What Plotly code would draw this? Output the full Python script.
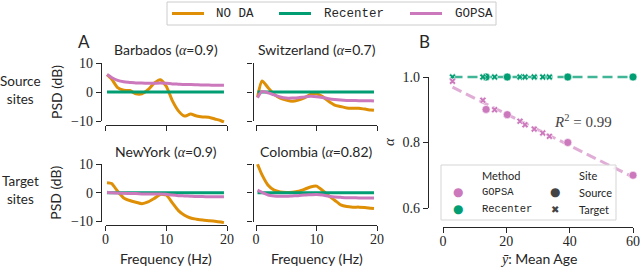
import numpy as np
import plotly.graph_objects as go

W, H = 640, 268

# ---------------- data: panel A ----------------
freqs = [0.25, 1, 2, 3, 4, 5, 6, 7, 8, 9, 10, 11, 12, 13, 14, 15, 16, 17, 18, 19, 19.5]
sites = ["Barbados", "Switzerland", "NewYork", "Colombia"]
site_alpha = ["0.9", "0.7", "0.9", "0.82"]
methods = ["NO DA", "Recenter", "GOPSA"]

noda_barbados = [6.0, 4.5, 1.5, 0.6, 0.5, -0.6, -0.6, 0.8, 3.0, 4.2, 2.0, -3.0, -6.5, -8.3, -7.6, -8.3, -8.6, -8.7, -9.3, -9.9, -10.3]
noda_switzerland = [-1.8, 3.8, 1.5, -0.8, -2.1, -2.8, -3.2, -2.8, -2.0, -0.8, -0.6, -1.6, -3.2, -4.5, -5.0, -5.5, -5.6, -5.6, -5.9, -6.2, -6.3]
noda_newyork = [3.5, 3.2, 0.5, -1.8, -2.7, -3.3, -3.8, -3.2, -2.0, -0.6, -0.8, -3.5, -6.2, -7.8, -8.8, -9.2, -9.5, -9.7, -9.9, -10.2, -10.4]
noda_colombia = [9.9, 6.2, 2.6, 0.9, 0.3, 0.1, 0.2, 0.5, 1.2, 2.0, 2.3, 0.8, -1.0, -2.6, -4.2, -4.8, -5.0, -5.0, -5.1, -5.4, -5.5]

recenter_barbados = [0.0, 0.0, 0.0, 0.0, 0.0, 0.0, 0.0, 0.0, 0.0, 0.0, 0.0, 0.0, 0.0, 0.0, 0.0, 0.0, 0.0, 0.0, 0.0, 0.0, 0.0]
recenter_switzerland = [0.0, 0.0, 0.0, 0.0, 0.0, 0.0, 0.0, 0.0, 0.0, 0.0, 0.0, 0.0, 0.0, 0.0, 0.0, 0.0, 0.0, 0.0, 0.0, 0.0, 0.0]
recenter_newyork = [0.0, 0.0, 0.0, 0.0, 0.0, 0.0, 0.0, 0.0, 0.0, 0.0, 0.0, 0.0, 0.0, 0.0, 0.0, 0.0, 0.0, 0.0, 0.0, 0.0, 0.0]
recenter_colombia = [0.0, 0.0, 0.0, 0.0, 0.0, 0.0, 0.0, 0.0, 0.0, 0.0, 0.0, 0.0, 0.0, 0.0, 0.0, 0.0, 0.0, 0.0, 0.0, 0.0, 0.0]

gopsa_barbados = [6.0, 5.0, 4.0, 3.5, 3.3, 3.1, 3.1, 3.0, 3.0, 3.1, 3.0, 2.8, 2.7, 2.6, 2.6, 2.5, 2.4, 2.4, 2.3, 2.3, 2.3]
gopsa_switzerland = [-2.0, 0.2, -0.3, -1.0, -1.7, -2.1, -2.1, -2.0, -1.7, -1.5, -1.6, -1.9, -2.3, -2.6, -2.8, -2.9, -2.9, -3.0, -3.0, -3.0, -3.1]
gopsa_newyork = [0.2, 0.0, -0.1, -0.2, -0.3, -0.3, -0.4, -0.4, -0.4, -0.4, -0.5, -0.8, -1.0, -1.1, -1.2, -1.3, -1.3, -1.4, -1.4, -1.4, -1.4]
gopsa_colombia = [0.9, 0.1, -0.8, -1.1, -1.2, -1.2, -1.1, -1.0, -0.8, -0.7, -0.6, -0.8, -1.2, -1.5, -1.6, -1.7, -1.7, -1.8, -1.8, -1.8, -1.8]

a_xticks = [0, 10, 20]
a_xticktext = ["0", "10", "20"]
a_yticks = [-10, 0, 10]
a_yticktext = ["\u221210", "0", "10"]

# ---------------- data: panel B ----------------
source_age = [13.6, 20.3, 39.4, 60.0]
source_alpha_gopsa = [0.901, 0.885, 0.800, 0.700]
source_alpha_recenter = [1.0, 1.0, 1.0, 1.0]
target_age = [3.0, 12.6, 16.3, 24.3, 25.9, 28.8, 31.5, 33.6]
target_alpha_gopsa = [0.987, 0.929, 0.900, 0.865, 0.854, 0.841, 0.829, 0.819]
target_alpha_recenter = [1.0, 1.0, 1.0, 1.0, 1.0, 1.0, 1.0, 1.0]
b_xticks = [0, 20, 40, 60]
b_yticks = [0.6, 0.8, 1.0]
b_yticktext = ["0.6", "0.8", "1.0"]

# ---------------- style ----------------
ORANGE = "#de8f05"
GREEN = "#029e73"
PINK = "#cc78bc"
INK = "#262626"
SERIF = "Liberation Serif"
SANS = "Lato"
MONO = "Liberation Mono"
method_colors = [ORANGE, GREEN, PINK]

fig = go.Figure()
layout = {}
annotations = []
shapes = []


def fx(px):
    return px / W


def fy(py):
    return 1 - py / H


def label(text, px, py, font, xanchor="center", angle=0, align="center"):
    annotations.append(dict(x=fx(px), y=fy(py), xref="paper", yref="paper", showarrow=False,
                            text=text, font=font, xanchor=xanchor, yanchor="middle",
                            textangle=angle, align=align))


def add_axes(n, xv, xp, yv, yp, xext, yext, xspine_py, yspine_px,
             xtickvals, xticktext, ytickvals, yticktext, show_xlab, show_ylab, tickfont):
    """n: data axis number; n+10: spine axis number"""
    sx = (xp[1] - xp[0]) / (xv[1] - xv[0])
    xr = [xv[0] + (xext[0] - xp[0]) / sx, xv[0] + (xext[1] - xp[0]) / sx]
    sy = (yp[1] - yp[0]) / (yv[1] - yv[0])
    yr = [yv[0] + (yext[1] - yp[0]) / sy, yv[0] + (yext[0] - yp[0]) / sy]
    sfx = "" if n == 1 else str(n)
    layout["xaxis" + sfx] = dict(domain=[fx(xext[0]), fx(xext[1])], range=xr, visible=False,
                                 anchor="y" + sfx, fixedrange=True, automargin=False)
    layout["yaxis" + sfx] = dict(domain=[fy(yext[1]), fy(yext[0])], range=yr, visible=False,
                                 anchor="x" + sfx, fixedrange=True, automargin=False)
    m = n + 10
    layout["xaxis%d" % m] = dict(
        domain=[fx(xp[0]), fx(xp[1])], range=[xv[0], xv[1]], anchor="free",
        position=fy(xspine_py), showline=True, linecolor=INK, linewidth=1.4,
        ticks="outside", ticklen=5, tickwidth=1.4, tickcolor=INK,
        tickvals=xtickvals, ticktext=xticktext, showticklabels=show_xlab,
        ticklabelstandoff=-4,
        tickfont=tickfont, showgrid=False, zeroline=False, fixedrange=True, automargin=False)
    ylo, yhi = min(yv), max(yv)
    layout["yaxis%d" % m] = dict(
        domain=[fy(max(yp)), fy(min(yp))], range=[ylo, yhi], anchor="free",
        position=fx(yspine_px), showline=True, linecolor=INK, linewidth=1.4,
        ticks="outside", ticklen=5, tickwidth=1.4, tickcolor=INK,
        tickvals=ytickvals, ticktext=yticktext, showticklabels=show_ylab,
        tickfont=tickfont, showgrid=False, zeroline=False, fixedrange=True, automargin=False)
    fig.add_trace(go.Scatter(x=[xv[0]], y=[yv[0]], mode="markers", marker=dict(opacity=0),
                             xaxis="x%d" % m, yaxis="y%d" % m, showlegend=False, hoverinfo="skip"))
    return "x" + sfx, "y" + sfx


tickfont = dict(family=SERIF, size=14, color=INK)
sans14 = dict(family=SANS, size=14, color=INK)

# panel A geometry (pixel positions of tick values)
panels = [
    dict(xp=(105.5, 227), yp=(63, 121), xs=124.5, ys=101, xl=False, yl=True),
    dict(xp=(256, 377), yp=(63, 121), xs=124.5, ys=252.5, xl=False, yl=False),
    dict(xp=(105.5, 227), yp=(164, 221.5), xs=224.5, ys=101, xl=True, yl=True),
    dict(xp=(256, 377), yp=(164, 221.5), xs=224.5, ys=252.5, xl=True, yl=False),
]
noda = [noda_barbados, noda_switzerland, noda_newyork, noda_colombia]
recenter = [recenter_barbados, recenter_switzerland, recenter_newyork, recenter_colombia]
gopsa = [gopsa_barbados, gopsa_switzerland, gopsa_newyork, gopsa_colombia]

for i, p in enumerate(panels):
    xa, ya = add_axes(i + 1, (0, 20), p["xp"], (10, -10), p["yp"],
                      (p["xp"][0] - 3, p["xp"][1] + 3), (p["yp"][0] - 4, p["yp"][1] + 4),
                      p["xs"], p["ys"], a_xticks, a_xticktext, a_yticks, a_yticktext,
                      p["xl"], p["yl"], tickfont)
    for name, vals, col in zip(methods, (noda[i], recenter[i], gopsa[i]), method_colors):
        fig.add_trace(go.Scatter(x=freqs, y=vals, mode="lines", name=name,
                                 line=dict(color=col, width=3, shape="spline", smoothing=0.6),
                                 xaxis=xa, yaxis=ya, showlegend=False, hoverinfo="skip"))
    cx = (p["xp"][0] + p["xp"][1]) / 2
    label('%s (<span style="font-family:Liberation Serif"><i>\u03b1</i></span>=%s)' % (sites[i], site_alpha[i]),
          cx, p["yp"][0] - 13, sans14)
    if p["yl"]:
        label("PSD (dB)", 56, (p["yp"][0] + p["yp"][1]) / 2, sans14, angle=-90)
    if p["xl"]:
        label("Frequency (Hz)", cx, 258, sans14)

label("Source<br>sites", 20, 90, dict(family=SANS, size=13.5, color=INK))
label("Target<br>sites", 20, 190, dict(family=SANS, size=13.5, color=INK))
label("A", 84, 41, dict(family=SANS, size=17, color=INK))
label("B", 424, 41, dict(family=SANS, size=17, color=INK))

# top legend (drawn as a box with line swatches)
shapes.append(dict(type="rect", xref="paper", yref="paper", x0=fx(167), x1=fx(496), y0=fy(25), y1=fy(2),
                   line=dict(color="#cccccc", width=1), fillcolor="white"))
for name, col, lx0, tx in zip(methods, method_colors, (172, 279, 410), (214, 322, 453)):
    shapes.append(dict(type="line", xref="paper", yref="paper", x0=fx(lx0), x1=fx(lx0 + 32),
                       y0=fy(13.5), y1=fy(13.5), line=dict(color=col, width=3)))
    label(name, tx, 13.5, dict(family=MONO, size=12.5, color=INK), xanchor="left")

# ---------------- panel B ----------------
xb, yb = add_axes(9, (0, 60), (443, 633), (1.0, 0.6), (77, 208), (433, 640), (68, 216),
                  227, 428, b_xticks, [str(v) for v in b_xticks], b_yticks, b_yticktext,
                  True, True, tickfont)

all_age = np.array(source_age + target_age)
for vals, col, lw, op in ((source_alpha_recenter + target_alpha_recenter, GREEN, 2.5, 0.75),
                          (source_alpha_gopsa + target_alpha_gopsa, PINK, 3, 0.6)):
    coef = np.polyfit(all_age, np.array(vals), 1)
    xs = np.array([all_age.min(), all_age.max()])
    fig.add_trace(go.Scatter(x=xs, y=np.polyval(coef, xs), mode="lines",
                             line=dict(color=col, width=lw, dash="10px,5px"), opacity=op,
                             xaxis=xb, yaxis=yb, showlegend=False, hoverinfo="skip"))

for ages, vals, col, sym, size in (
        (source_age, source_alpha_recenter, GREEN, "circle", 8),
        (target_age, target_alpha_recenter, GREEN, "x", 6),
        (source_age, source_alpha_gopsa, PINK, "circle", 8),
        (target_age, target_alpha_gopsa, PINK, "x", 6)):
    fig.add_trace(go.Scatter(x=ages, y=vals, mode="markers",
                             marker=dict(color=col, symbol=sym, size=size,
                                         line=dict(color="white", width=0.6)),
                             xaxis=xb, yaxis=yb, showlegend=False, hoverinfo="skip", cliponaxis=False))

label("<i>R</i><sup>2</sup> = 0.99", 583, 121, dict(family=SERIF, size=15, color="#444444"))
label("<i>\u03b1</i>", 389, 142, dict(family=SERIF, size=15, color=INK), angle=-90)
label('<span style="font-family:Liberation Serif"><i>\u0233</i></span>: Mean Age', 538, 258, sans14)

# panel B legend (drawn manually)
shapes.append(dict(type="rect", xref="paper", yref="paper", x0=fx(441), x1=fx(616), y0=fy(220), y1=fy(165),
                   line=dict(color="#d5d5d5", width=1), fillcolor="rgba(255,255,255,0.8)", layer="above"))
leg_font = dict(family=MONO, size=10.5, color=INK)
leg_sans = dict(family=SANS, size=11, color=INK)
for txt, px, py, fnt in (("Method", 480, 175, leg_sans), ("Site", 577, 175, leg_sans),
                         ("GOPSA", 480, 192, leg_font), ("Recenter", 480, 209, leg_font),
                         ("Source", 577, 192, leg_sans), ("Target", 577, 209, leg_sans)):
    label(txt, px, py, fnt, xanchor="left")
for sym, col, px, py, sz in (("\u25cf", PINK, 458, 192, 12), ("\u25cf", GREEN, 458, 209, 12),
                             ("\u25cf", "#444444", 555, 192, 12), ("\u2716", "#444444", 555, 209, 10)):
    label(sym, px, py, dict(family="DejaVu Sans", size=sz, color=col))

layout.update(dict(
    width=W, height=H, margin=dict(l=0, r=0, t=0, b=0, pad=0, autoexpand=False),
    paper_bgcolor="white", plot_bgcolor="rgba(0,0,0,0)",
    showlegend=False,
    annotations=annotations, shapes=shapes,
))
fig.update_layout(**layout)
fig.write_html("out.html", config={"displayModeBar": False},
               post_script="document.body.style.margin='0';document.body.style.overflow='hidden';")
